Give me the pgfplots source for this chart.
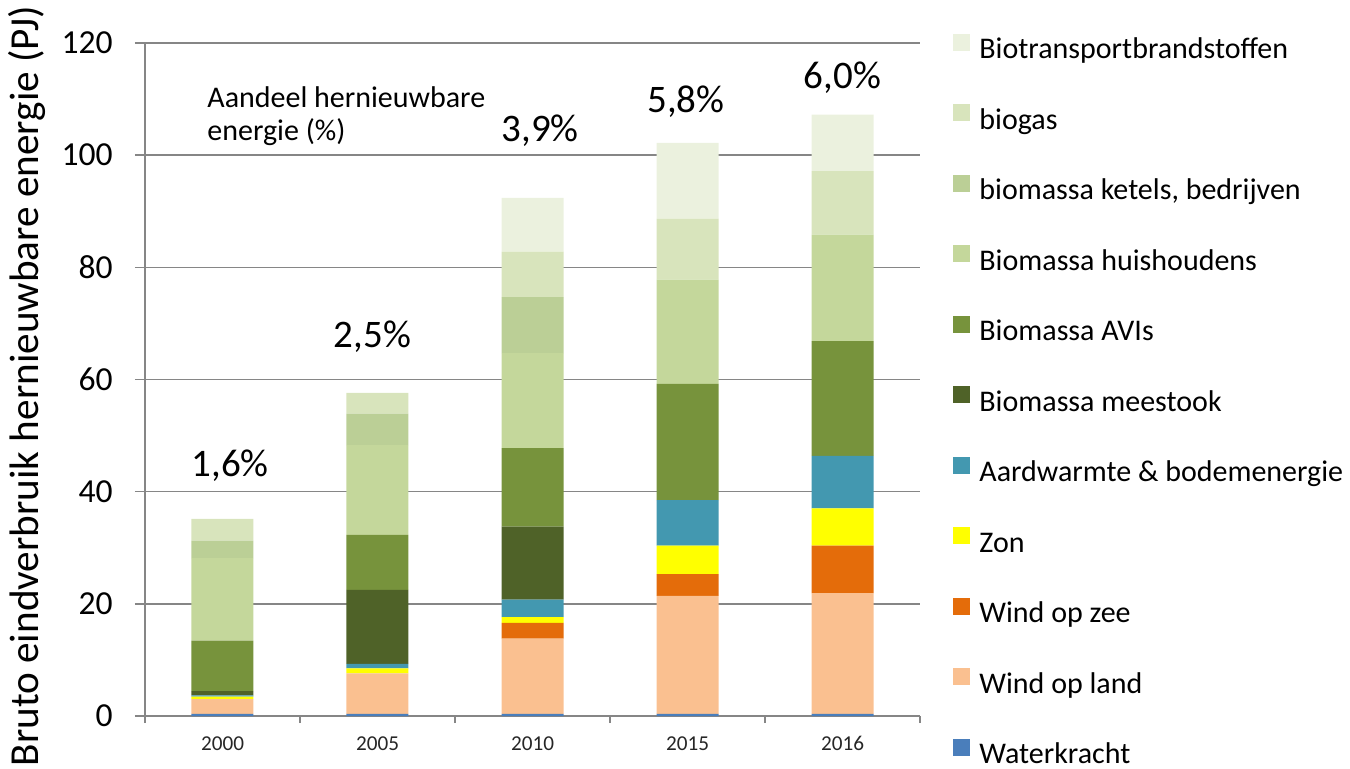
\documentclass[border=0pt]{standalone}
\usepackage{fontspec}
\setmainfont{Carlito}
\usepackage{pgfplots}
\pgfplotsset{compat=1.18}
\usepackage{pgfplotstable}

\definecolor{axisgray}{HTML}{868686}
\definecolor{cWater}{HTML}{4A7EBB}
\definecolor{cLand}{HTML}{FAC090}
\definecolor{cZee}{HTML}{E46C0A}
\definecolor{cZon}{HTML}{FFFF00}
\definecolor{cAard}{HTML}{4398B0}
\definecolor{cMee}{HTML}{4F6228}
\definecolor{cAvi}{HTML}{77933C}
\definecolor{cHuis}{HTML}{C4D79B}
\definecolor{cKet}{HTML}{BBCF96}
\definecolor{cGas}{HTML}{D8E4BC}
\definecolor{cTrans}{HTML}{EBF1DE}

\pgfplotstableread{
x water land zee zon aard mee avi huis ket gas trans
0 0.4 2.6  0.0 0.45 0.25 0.75 9.0  14.7  3.1  3.9  0.0
1 0.4 7.2  0.0 0.9  0.8  13.2 9.8  16.0  5.6  3.7  0.0
2 0.4 13.4 2.8 1.05 3.1  13.0 14.0 16.95 10.0 8.1  9.6
3 0.4 21.0 3.9 5.1  8.1  0.0  20.7 18.6  0.0  10.9 13.5
4 0.4 21.5 8.5 6.6  9.4  0.0  20.45 19.0 0.0  11.3 10.1
}\data

\pgfplotsset{
  sq/.style={fill=#1, draw=none,
    legend image code/.code={\fill[##1] (0pt,0.3pt) rectangle (8.5pt,8.8pt);}},
}

\begin{document}
\begin{tikzpicture}
\begin{axis}[
  scale only axis, width=387.5pt, height=336.5pt,
  ymin=0, ymax=120, ytick={0,20,...,120},
  xmin=-0.5, xmax=4.5, xtick={0,...,4},
  xticklabels={2000,2005,2010,2015,2016},
  minor xtick={-0.5,0.5,...,4.5},
  ybar stacked, bar width=0.4,
  axis lines*=left,
  axis line style={draw=axisgray, line width=0.75pt},
  ymajorgrids, grid style={draw=axisgray, line width=0.75pt},
  tick align=outside,
  major x tick style={draw=none},
  minor x tick style={draw=axisgray, line width=0.75pt},
  major y tick style={draw=axisgray, line width=0.75pt},
  major tick length=5pt, minor tick length=3.5pt,
  /pgf/number format/assume math mode=true,
  yticklabel style={font=\fontsize{16.8}{19}\selectfont, inner sep=0pt, xshift=-11pt},
  xticklabel style={font=\fontsize{10.6}{12}\selectfont, inner sep=0pt, yshift=-5pt, text=black!85},
  ylabel={Bruto eindverbruik hernieuwbare energie (PJ)},
  ylabel style={font=\fontsize{20.6}{23}\selectfont, at={(axis description cs:-0.1523,0.49)}, anchor=center},
  legend cell align=left,
  reverse legend,
  legend style={at={(1.0426,1.0141)}, anchor=north west, draw=none, fill=none,
    inner sep=0pt, row sep=19.95pt, font=\fontsize{15}{16}\selectfont,
    nodes={inner sep=0pt, text height=10pt, text depth=3pt},
    /tikz/every odd column/.append style={column sep=4.5pt}},
]
\addplot[sq=cWater] table[x=x, y=water] {\data}; \addlegendentry{Waterkracht}
\addplot[sq=cLand] table[x=x, y=land] {\data}; \addlegendentry{Wind op land}
\addplot[sq=cZee] table[x=x, y=zee] {\data}; \addlegendentry{Wind op zee}
\addplot[sq=cZon] table[x=x, y=zon] {\data}; \addlegendentry{Zon}
\addplot[sq=cAard] table[x=x, y=aard] {\data}; \addlegendentry{Aardwarmte \& bodemenergie}
\addplot[sq=cMee] table[x=x, y=mee] {\data}; \addlegendentry{Biomassa meestook}
\addplot[sq=cAvi] table[x=x, y=avi] {\data}; \addlegendentry{Biomassa AVIs}
\addplot[sq=cHuis] table[x=x, y=huis] {\data}; \addlegendentry{Biomassa huishoudens}
\addplot[sq=cKet] table[x=x, y=ket] {\data}; \addlegendentry{biomassa ketels, bedrijven}
\addplot[sq=cGas] table[x=x, y=gas] {\data}; \addlegendentry{biogas}
\addplot[sq=cTrans] table[x=x, y=trans] {\data}; \addlegendentry{Biotransportbrandstoffen}

\node[font=\fontsize{19.5}{22}\selectfont] at (axis cs:0.05,44.6) {1,6\%};
\node[font=\fontsize{19.5}{22}\selectfont] at (axis cs:0.968,67.6) {2,5\%};
\node[font=\fontsize{19.5}{22}\selectfont] at (axis cs:2.05,104.3) {3,9\%};
\node[font=\fontsize{19.5}{22}\selectfont] at (axis cs:2.99,109.5) {5,8\%};
\node[font=\fontsize{19.5}{22}\selectfont] at (axis cs:4.0,113.9) {6,0\%};
\node[anchor=north west, align=left, inner sep=0pt, font=\fontsize{15}{16.5}\selectfont]
  at (axis cs:-0.1,112.3) {Aandeel hernieuwbare\\energie (\%)};
\end{axis}
\pgfresetboundingbox
\useasboundingbox (-72.5pt,-26pt) rectangle (602.5pt,358pt);
\end{tikzpicture}
\end{document}
